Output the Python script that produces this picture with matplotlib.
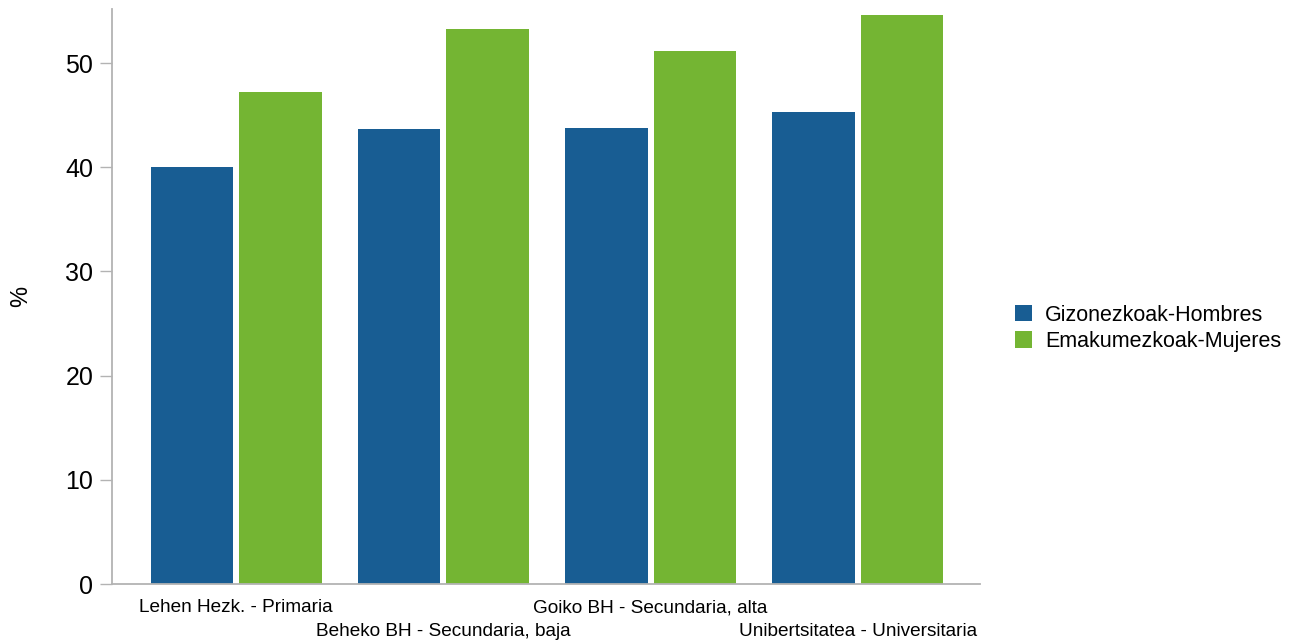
import matplotlib.pyplot as plt
import numpy as np

plt.rcParams['font.family'] = ['Liberation Sans', 'DejaVu Sans']

categories = ['Lehen Hezk. - Primaria', 'Beheko BH - Secundaria, baja',
              'Goiko BH - Secundaria, alta', 'Unibertsitatea - Universitaria']
hombres = [40.0, 43.7, 43.8, 45.3]
mujeres = [47.2, 53.3, 51.2, 54.6]

blue = '#185d93'
green = '#74b533'
grey = '#b3b3b3'

fig = plt.figure(figsize=(12.93, 6.4), dpi=100)
ax = fig.add_axes([0.0866, 0.0875, 0.6714, 0.8985])

x = np.arange(len(categories))
w = 0.398
ax.bar(x - 0.2135, hombres, w, color=blue, label='Gizonezkoak-Hombres')
ax.bar(x + 0.2135, mujeres, w, color=green, label='Emakumezkoak-Mujeres')

ax.set_xlim(-0.6, 3.59)
ax.set_ylim(0, 55.2)
ax.set_yticks([0, 10, 20, 30, 40, 50])
ax.tick_params(axis='y', labelsize=18, length=8.5, width=1, color=grey, pad=5)

# staggered category labels: even ones on major ticks, odd ones on minor ticks lower down
ax.set_xticks(x[::2])
ax.set_xticklabels(categories[::2])
ax.set_xticks(x[1::2], minor=True)
ax.set_xticklabels(categories[1::2], minor=True)
ax.tick_params(axis='x', which='major', labelsize=13.7, length=0, pad=11)
ax.tick_params(axis='x', which='minor', labelsize=13.7, length=0, pad=28)

for s in ['top', 'right']:
    ax.spines[s].set_visible(False)
for s in ['left', 'bottom']:
    ax.spines[s].set_color(grey)
    ax.spines[s].set_linewidth(1.3)

ax.set_ylabel('%', fontsize=17)
ax.yaxis.set_label_coords(-0.092, 0.5)

fig.legend(loc='center left', bbox_to_anchor=(0.77, 0.487), frameon=False,
           fontsize=15.5, handlelength=0.8, handleheight=0.8, handletextpad=0.6,
           labelspacing=0.25)

fig.savefig('out.png', dpi=100)
